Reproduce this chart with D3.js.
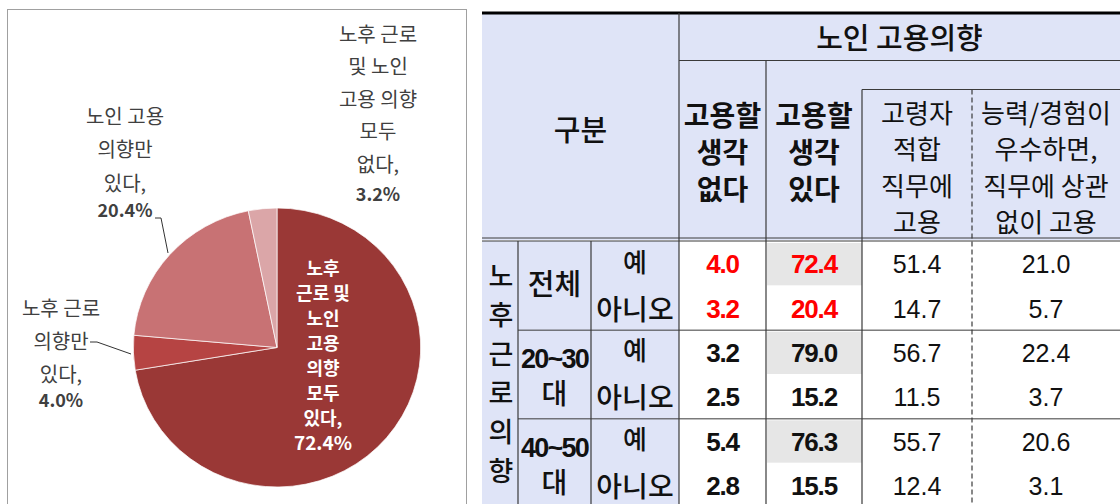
<!DOCTYPE html>
<html>
<head>
<meta charset="utf-8">
<script src="https://cdn.jsdelivr.net/npm/d3@7"></script>
<style>
  body { margin: 0; background: #fff; }
  .kr { font-family: "Noto Sans CJK KR", "Noto Sans", sans-serif; }
  .num { font-family: "Liberation Sans", Arial, sans-serif; }
</style>
</head>
<body>
<div id="chart"></div>
<script>
// pie data
const pieLabels = [
  ["노후", "근로 및", "노인", "고용", "의향", "모두", "있다,"],
  ["노후 근로", "의향만", "있다,"],
  ["노인 고용", "의향만", "있다,"],
  ["노후 근로", "및 노인", "고용 의향", "모두", "없다,"]
];
const pieValues = [72.4, 4.0, 20.4, 3.2];
const pieColors = ["#9a3836", "#b64443", "#c87274", "#dba6a8"];

// table data
const groups = [["전체"], ["20~30", "대"], ["40~50", "대"]];
const answers = ["예", "아니오"];
const colNoIntent = [4.0, 3.2, 3.2, 2.5, 5.4, 2.8];
const colIntent = [72.4, 20.4, 79.0, 15.2, 76.3, 15.5];
const colSuitable = [51.4, 14.7, 56.7, 11.5, 55.7, 12.4];
const colAbility = [21.0, 5.7, 22.4, 3.7, 20.6, 3.1];
const rowTitle = ["노", "후", "근", "로", "의", "향"];

const svg = d3.select("#chart").append("svg")
  .attr("width", 1120)
  .attr("height", 504);

// ---------- pie panel ----------
svg.append("rect")
  .attr("x", 7.5).attr("y", 9.5)
  .attr("width", 459).attr("height", 520)
  .attr("fill", "none").attr("stroke", "#a0a0a0");

const pie = d3.pie().sort(null).value(d => d);
const arcs = pie(pieValues);
const r = 139.5;
const arc = d3.arc().innerRadius(0).outerRadius(r);

const pg = svg.append("g")
  .attr("transform", "translate(277,347.5) scale(1.03,1)");

pg.selectAll("path")
  .data(arcs)
  .enter()
  .append("path")
  .attr("d", arc)
  .attr("fill", (d, i) => pieColors[i])
  .attr("stroke", "#fff")
  .attr("stroke-width", 0.7);

function pieLabel(lines, value, x, y0, step, opts) {
  const g = svg.append("g").attr("class", "kr")
    .attr("text-anchor", "middle")
    .attr("fill", opts.color);
  lines.forEach((t, i) => {
    g.append("text").attr("x", x).attr("y", y0 + i * step)
      .attr("dominant-baseline", "central")
      .attr("font-size", opts.size)
      .attr("font-weight", opts.bold ? 700 : 400)
      .text(t);
  });
  g.append("text")
    .attr("x", x).attr("y", y0 + lines.length * step + opts.valueShift)
    .attr("dominant-baseline", "central")
    .attr("font-size", opts.valueSize)
    .attr("font-weight", 700)
    .text(d3.format(".1f")(value) + "%");
}

pieLabel(pieLabels[0], pieValues[0], 323, 267, 25, { size: 18, valueSize: 19, color: "#fff", bold: true, valueShift: -1 });
pieLabel(pieLabels[1], pieValues[1], 61, 307, 33, { size: 20, valueSize: 18, color: "#404040", bold: false, valueShift: -7 });
pieLabel(pieLabels[2], pieValues[2], 125, 115, 33.5, { size: 20, valueSize: 18, color: "#404040", bold: false, valueShift: -7 });
pieLabel(pieLabels[3], pieValues[3], 378, 33, 32.5, { size: 20, valueSize: 18, color: "#404040", bold: false, valueShift: -3 });

// leader lines
const leader = d3.line();
svg.append("path")
  .attr("d", leader([[155, 218], [161, 218], [168, 253]]))
  .attr("fill", "none").attr("stroke", "#333").attr("stroke-width", 1);
svg.append("path")
  .attr("d", leader([[90, 342], [97, 342], [131, 354]]))
  .attr("fill", "none").attr("stroke", "#333").attr("stroke-width", 1);

// ---------- table ----------
const colEdges = [482, 518, 591, 679, 766, 862, 972, 1120];
const lav = "#dfe4f7";
const lineCol = "#3a3a3a";
const headTop = 13, headBottom = 240;

const y = d3.scaleBand()
  .domain(d3.range(colIntent.length))
  .range([241, 507]);

const t = svg.append("g");

// backgrounds
t.append("rect").attr("x", colEdges[0]).attr("y", headTop)
  .attr("width", colEdges[7] - colEdges[0]).attr("height", headBottom - headTop)
  .attr("fill", lav);
t.append("rect").attr("x", colEdges[0]).attr("y", y(0))
  .attr("width", colEdges[3] - colEdges[0]).attr("height", 270)
  .attr("fill", lav);
t.selectAll("rect.hi")
  .data(colIntent.filter((d, i) => i % 2 === 0))
  .enter()
  .append("rect")
  .attr("class", "hi")
  .attr("x", colEdges[4] + 1)
  .attr("y", (d, i) => y(i * 2) + 2)
  .attr("width", colEdges[5] - colEdges[4] - 1)
  .attr("height", y.bandwidth() - 2)
  .attr("fill", "#e6e6e6");

// lines
function hline(x1, x2, yy, w) {
  t.append("line").attr("x1", x1).attr("x2", x2).attr("y1", yy).attr("y2", yy)
    .attr("stroke", w > 2 ? "#000" : lineCol).attr("stroke-width", w || 1);
}
function vline(xx, y1, y2, dash) {
  t.append("line").attr("x1", xx).attr("x2", xx).attr("y1", y1).attr("y2", y2)
    .attr("stroke", lineCol).attr("stroke-width", 1.2)
    .attr("stroke-dasharray", dash || null);
}
hline(colEdges[0], colEdges[7], headTop, 3);
hline(colEdges[3], colEdges[7], 60.5);
hline(colEdges[5], colEdges[7], 89.5);
hline(colEdges[0], colEdges[7], 238, 1);
hline(colEdges[0], colEdges[7], 241, 1);
[2, 4].forEach(i => hline(colEdges[1], colEdges[7], y(i) + 0.5));
vline(colEdges[3], headTop, 504);
vline(colEdges[4], 60.5, 504);
vline(colEdges[5], 89.5, 504);
vline(colEdges[6], 89.5, 504, "5,3");
vline(colEdges[1], 241, 504);
vline(colEdges[2], 241, 504);

// header text
const hdr = t.append("g").attr("class", "kr").attr("text-anchor", "middle")
  .attr("fill", "#111");
function hdrText(lines, x, y0, step, size, weight) {
  lines.forEach((s, i) => {
    hdr.append("text").attr("x", x).attr("y", y0 + i * step)
      .attr("dominant-baseline", "central")
      .attr("font-size", size).attr("font-weight", weight)
      .text(s);
  });
}
hdrText(["노인  고용의향"], (colEdges[3] + colEdges[7]) / 2, 36, 0, 29, 500);
hdrText(["구분"], (colEdges[0] + colEdges[3]) / 2, 128, 0, 29, 500);
hdrText(["고용할", "생각", "없다"], (colEdges[3] + colEdges[4]) / 2, 114, 37, 28, 700);
hdrText(["고용할", "생각", "있다"], (colEdges[4] + colEdges[5]) / 2, 114, 37, 28, 700);
hdrText(["고령자", "적합", "직무에", "고용"], (colEdges[5] + colEdges[6]) / 2, 111, 36.5, 26, 400);
hdrText(["능력/경험이", "우수하면,", "직무에  상관", "없이  고용"], (colEdges[6] + colEdges[7]) / 2, 111, 36.5, 26, 400);

// row labels
rowTitle.forEach((c, i) => {
  hdr.append("text").attr("x", 501).attr("y", 274 + i * 39)
    .attr("dominant-baseline", "central")
    .attr("font-size", 27).attr("font-weight", 500).text(c);
});
groups.forEach((g, gi) => {
  const mid = y(gi * 2) + y.bandwidth();
  const x = (colEdges[1] + colEdges[2]) / 2;
  if (g.length === 1) {
    hdr.append("text").attr("x", x).attr("y", mid - 3)
      .attr("dominant-baseline", "central")
      .attr("font-size", 29).attr("font-weight", 500).text(g[0]);
  } else {
    hdr.append("text").attr("x", x).attr("y", mid - 15)
      .attr("class", "num")
      .attr("dominant-baseline", "central")
      .attr("font-size", 27).attr("font-weight", 700)
      .attr("letter-spacing", -1.8).text(g[0]);
    hdr.append("text").attr("x", x).attr("y", mid + 18)
      .attr("dominant-baseline", "central")
      .attr("font-size", 28).attr("font-weight", 500).text(g[1]);
  }
});
d3.range(colIntent.length).forEach(i => {
  hdr.append("text").attr("x", (colEdges[2] + colEdges[3]) / 2)
    .attr("y", y(i) + y.bandwidth() / 2 + (i % 2 === 0 ? -3 : 0))
    .attr("dominant-baseline", "central")
    .attr("font-size", i % 2 === 0 ? 26 : 28).attr("font-weight", 500)
    .text(answers[i % 2]);
});

// numbers
const numCols = [
  { vals: colNoIntent, c: 3, bold: true },
  { vals: colIntent, c: 4, bold: true },
  { vals: colSuitable, c: 5, bold: false },
  { vals: colAbility, c: 6, bold: false }
];
numCols.forEach(col => {
  t.append("g").selectAll("text")
    .data(col.vals)
    .enter()
    .append("text")
    .attr("class", "num")
    .attr("text-anchor", "middle")
    .attr("x", (colEdges[col.c] + colEdges[col.c + 1]) / 2)
    .attr("y", (d, i) => y(i) + y.bandwidth() / 2 + 1)
    .attr("dominant-baseline", "central")
    .attr("font-size", col.bold ? 26 : 25)
    .attr("font-weight", col.bold ? 700 : 400)
    .attr("letter-spacing", col.bold ? -1.2 : 0)
    .attr("fill", (d, i) => col.bold && i < 2 ? "#ff0000" : "#111")
    .text(d => d3.format(".1f")(d));
});
</script>
</body>
</html>
